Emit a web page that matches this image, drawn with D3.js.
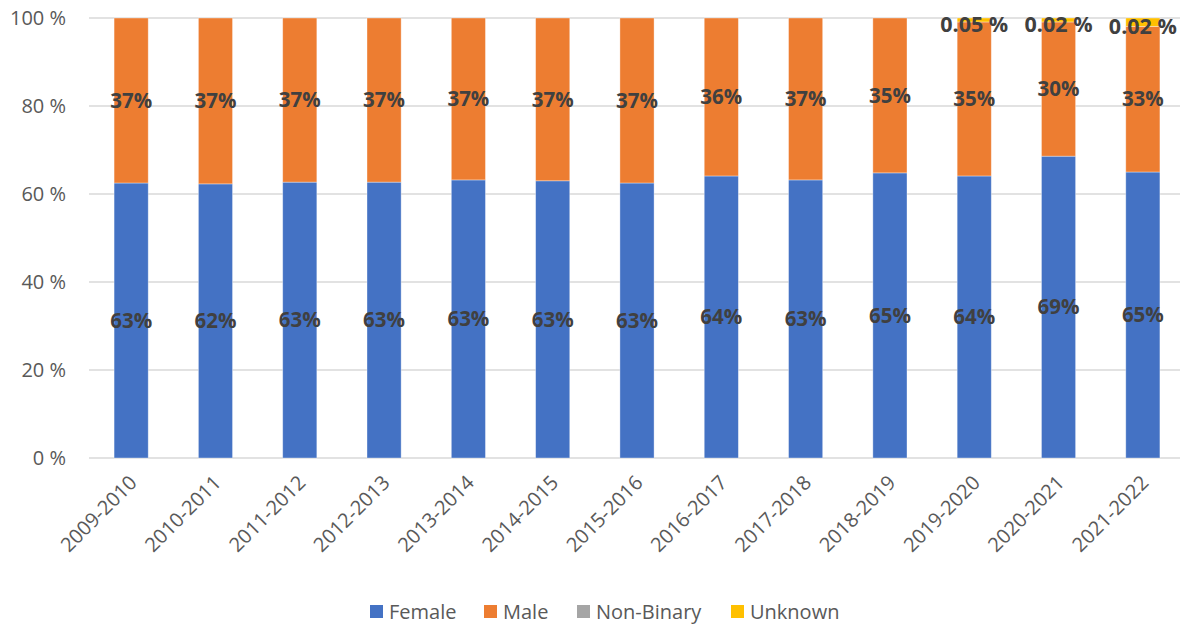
<!DOCTYPE html>
<html><head><meta charset="utf-8">
<script src="https://cdn.jsdelivr.net/npm/d3@7"></script>
<style>body{margin:0;background:#fff}svg{display:block}</style>
</head><body>
<svg id="c" width="1184" height="634"></svg>
<script>
const categories = ["2009-2010","2010-2011","2011-2012","2012-2013","2013-2014","2014-2015","2015-2016","2016-2017","2017-2018","2018-2019","2019-2020","2020-2021","2021-2022"];
const female = [0.625,0.623,0.627,0.627,0.632,0.630,0.625,0.641,0.632,0.648,0.641,0.686,0.650];
const nonBinary = [0,0,0,0,0,0,0,0,0,0,0,0,0];
const unknown = [0,0,0,0,0,0,0,0,0,0,0.009,0.009,0.019];
const male = female.map((f,i)=>1-f-nonBinary[i]-unknown[i]);
const femaleLabels = ["63%","62%","63%","63%","63%","63%","63%","64%","63%","65%","64%","69%","65%"];
const maleLabels = ["37%","37%","37%","37%","37%","37%","37%","36%","37%","35%","35%","30%","33%"];
const unknownLabels = [null,null,null,null,null,null,null,null,null,null,"0.05 %","0.02 %","0.02 %"];
const yTicks = [0,0.2,0.4,0.6,0.8,1.0];
const seriesNames = ["Female","Male","Non-Binary","Unknown"];
const colors = ["#4472c4","#ed7d31","#a5a5a5","#ffc000"];

const rows = categories.map((c,i)=>({cat:c,Female:female[i],Male:male[i],"Non-Binary":nonBinary[i],Unknown:unknown[i]}));
const labelSets = {Female:femaleLabels, Male:maleLabels, Unknown:unknownLabels};

const svg = d3.select("#c");
const pLeft=89, pRight=1185, pTop=18, pBottom=458;
const x = d3.scaleBand().domain(categories).range([pLeft,pRight]).paddingInner(0.595).paddingOuter(0.2975);
const y = d3.scaleLinear().domain([0,1]).range([pBottom,pTop]);
const font = "'Open Sans', 'Liberation Sans', sans-serif";

// gridlines
svg.append("g").selectAll("line").data(yTicks).join("line")
  .attr("x1",pLeft).attr("x2",1180).attr("y1",d=>y(d)).attr("y2",d=>y(d))
  .attr("stroke","#d9d9d9").attr("stroke-width",1.3);

// y axis
const yAxis = svg.append("g").attr("transform",`translate(${pLeft},0)`)
  .call(d3.axisLeft(y).tickValues(yTicks).tickSize(0).tickPadding(23).tickFormat(d=>Math.round(d*100)+" %"));
yAxis.select(".domain").remove();
yAxis.selectAll("text").attr("font-family",font).attr("font-size",20).attr("fill","#595959");

// bars
const stack = d3.stack().keys(seriesNames)(rows);
svg.append("g").selectAll("g").data(stack).join("g").attr("fill",(d,i)=>colors[i])
  .selectAll("rect").data(d=>d).join("rect")
  .attr("x",d=>x(d.data.cat)).attr("width",x.bandwidth())
  .attr("y",d=>y(d[1])).attr("height",d=>Math.max(0,y(d[0])-y(d[1])))
  .attr("stroke","rgba(255,255,255,0.45)").attr("stroke-width",0.8);

// x axis
const xAxis = svg.append("g").attr("transform",`translate(0,${pBottom})`)
  .call(d3.axisBottom(x).tickSize(0).tickPadding(0));
xAxis.select(".domain").remove();
xAxis.selectAll("text").attr("font-family",font).attr("font-size",20).attr("fill","#595959")
  .attr("text-anchor","end").attr("dy",0)
  .attr("transform","translate(7,26) rotate(-45)");

// labels
const lbl = svg.append("g").attr("font-family",font).attr("font-weight","bold").attr("font-size",20.5)
  .attr("fill","#404040").attr("text-anchor","middle");
stack.forEach(s=>{
  const labs = labelSets[s.key];
  if(!labs) return;
  s.forEach((d,i)=>{
    if(!labs[i]) return;
    const cy = s.key==="Unknown" ? (y(d[1])+y(d[0]))/2 + 4 : (y(d[1])+y(d[0]))/2;
    lbl.append("text").attr("x",x(d.data.cat)+x.bandwidth()/2).attr("y",cy).attr("dy","0.35em")
      .attr("font-size",s.key==="Unknown"?21.5:null).text(labs[i]);
  });
});

// legend
const legendX = [370,484,577,731];
const lg = svg.append("g");
seriesNames.forEach((n,i)=>{
  lg.append("rect").attr("x",legendX[i]).attr("y",605).attr("width",13).attr("height",13).attr("fill",colors[i]);
  lg.append("text").attr("x",legendX[i]+19).attr("y",611.5).attr("dy","0.35em")
    .attr("font-family",font).attr("font-size",20).attr("fill","#595959").text(n);
});
</script>
</body></html>
